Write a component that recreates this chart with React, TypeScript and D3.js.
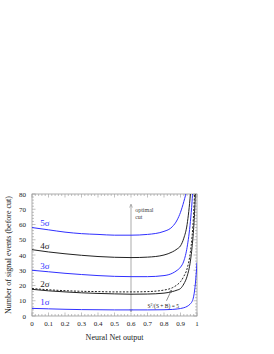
import React from "react";
import * as d3 from "d3";

// x positions shared by all curves (NN output cut)
const cutX = [0, 0.1, 0.2, 0.3, 0.4, 0.5, 0.6, 0.7, 0.8, 0.85, 0.88, 0.9, 0.92, 0.94, 0.96, 0.97, 0.98, 0.99, 1.0];

const sig1 = [5, 4.7, 4.4, 4.2, 4.1, 4.0, 4.0, 4.0, 4.1, 4.3, 4.6, 4.9, 5.4, 6.3, 8, 9.5, 13, 21, 35];
const sig2 = [17.5, 16.5, 15.8, 15.2, 14.8, 14.5, 14.3, 14.4, 15, 16, 17, 18, 21, 26, 36, 45, 58, 80, 120];
const sig3 = [30, 29, 28, 27.2, 26.5, 26, 25.8, 25.8, 26.5, 28, 30, 32, 36, 45, 62, 75, 95, 130, 160];
const sig4 = [43.5, 42, 40.8, 39.8, 39, 38.5, 38.3, 38.6, 40, 42, 44, 46, 51, 60, 80, 95, 120, 150, 180];
const sig5 = [58, 56.5, 55, 54, 53.5, 53, 53, 53.5, 55.5, 58.5, 63, 68, 75, 84, 100, 120, 140, 170, 200];
const s2sb = [18, 17.2, 16.6, 16.2, 16, 15.8, 15.8, 16, 17, 18.5, 20.5, 22.5, 26, 31, 42, 52, 68, 95, 130];

const sigmaLabels = ["1σ", "2σ", "3σ", "4σ", "5σ"];
const sigmaY = [7, 19, 31, 44, 59];

const xTicks = [0, 0.1, 0.2, 0.3, 0.4, 0.5, 0.6, 0.7, 0.8, 0.9, 1];
const yTicks = [0, 10, 20, 30, 40, 50, 60, 70, 80];

const BLUE = "#3030ff";
const BLACK = "#222";
const GREY = "#999";

const App = () => {
  const W = 274;
  const H = 354;
  const margin = { left: 32, right: 77, top: 194, bottom: 38 };
  const iw = W - margin.left - margin.right;
  const ih = H - margin.top - margin.bottom;

  const x = d3.scaleLinear().domain([0, 1]).range([0, iw]);
  const y = d3.scaleLinear().domain([0, 80]).range([ih, 0]);

  const line = d3
    .line<number>()
    .x((_, i) => x(cutX[i]))
    .y((d) => y(d))
    .curve(d3.curveMonotoneX);

  const curves = [
    { v: sig1, c: BLUE, dash: "" },
    { v: sig2, c: BLACK, dash: "" },
    { v: sig3, c: BLUE, dash: "" },
    { v: sig4, c: BLACK, dash: "" },
    { v: sig5, c: BLUE, dash: "" },
    { v: s2sb, c: BLACK, dash: "2,1.5" },
  ];

  const xMinor = d3.range(0, 1.0001, 0.02);
  const yMinor = d3.range(0, 80.001, 2);

  return (
    <svg width={W} height={H} style={{ display: "block", position: "absolute", left: 0, top: 0 }}>
      <defs>
        <clipPath id="plot">
          <rect x={0} y={0} width={iw} height={ih} />
        </clipPath>
        <marker id="ah" viewBox="0 0 6 6" refX="5" refY="3" markerWidth="5" markerHeight="5" orient="auto-start-reverse">
          <path d="M0,0.5 L6,3 L0,5.5" fill="none" stroke="#777" strokeWidth="0.8" />
        </marker>
        <marker id="ah2" viewBox="0 0 6 6" refX="5" refY="3" markerWidth="5" markerHeight="5" orient="auto">
          <path d="M0,0.5 L6,3 L0,5.5" fill="none" stroke="#444" strokeWidth="0.8" />
        </marker>
      </defs>
      <g transform={`translate(${margin.left},${margin.top})`} fontFamily="'Liberation Serif', 'DejaVu Serif', serif">
        {/* ticks, all four sides */}
        {xMinor.map((t, i) => {
          const major = Math.abs(t * 10 - Math.round(t * 10)) < 1e-6;
          const len = major ? 3.5 : 2;
          return (
            <g key={"xt" + i} stroke={GREY} strokeWidth={0.6}>
              <line x1={x(t)} x2={x(t)} y1={ih} y2={ih - len} />
              <line x1={x(t)} x2={x(t)} y1={0} y2={len} />
            </g>
          );
        })}
        {yMinor.map((t, i) => {
          const major = t % 10 === 0;
          const len = major ? 3.5 : 2;
          return (
            <g key={"yt" + i} stroke={GREY} strokeWidth={0.6}>
              <line x1={0} x2={len} y1={y(t)} y2={y(t)} />
              <line x1={iw} x2={iw - len} y1={y(t)} y2={y(t)} />
            </g>
          );
        })}
        <rect x={0} y={0} width={iw} height={ih} fill="none" stroke={GREY} strokeWidth={0.8} />

        {/* optimal cut arrow */}
        <line x1={x(0.6)} x2={x(0.6)} y1={y(3)} y2={y(73)} stroke="#888" strokeWidth={0.7} markerEnd="url(#ah)" markerStart="url(#ah)" />
        <text x={x(0.625)} y={y(68.5)} fontSize={6} fill="#444">optimal</text>
        <text x={x(0.625)} y={y(63.5)} fontSize={6} fill="#444">cut</text>

        <g clipPath="url(#plot)">
          {curves.map((c, i) => (
            <path key={i} d={line(c.v) ?? ""} fill="none" stroke={c.c} strokeWidth={1} strokeDasharray={c.dash} />
          ))}
        </g>

        {/* S^2/(S+B) label */}
        <line x1={x(0.815)} x2={x(0.845)} y1={y(10)} y2={y(17)} stroke="#444" strokeWidth={0.6} markerEnd="url(#ah2)" />
        <text x={x(0.7)} y={y(5.5)} fontSize={5.5} fill={BLACK}>
          S<tspan dy={-2} fontSize={4}>2</tspan>
          <tspan dy={2}>/(S + B) = 5</tspan>
        </text>

        {sigmaLabels.map((s, i) => (
          <text key={s} x={x(0.05)} y={y(sigmaY[i])} fontSize={9} fill={i % 2 === 0 ? BLUE : BLACK}>
            {s}
          </text>
        ))}

        {xTicks.map((t) => (
          <text key={"xl" + t} x={x(t)} y={ih + 10} fontSize={7} textAnchor="middle" fill={BLACK}>
            {t}
          </text>
        ))}
        {yTicks.map((t) => (
          <text key={"yl" + t} x={-6} y={y(t) + 2.5} fontSize={7} textAnchor="end" fill={BLACK}>
            {t}
          </text>
        ))}
        <text x={iw / 2} y={ih + 24} fontSize={8} textAnchor="middle" fill={BLACK}>
          Neural Net output
        </text>
        <text transform={`translate(-21,${ih / 2}) rotate(-90)`} fontSize={8} textAnchor="middle" fill={BLACK}>
          Number of signal events (before cut)
        </text>
      </g>
    </svg>
  );
};

export default App;
